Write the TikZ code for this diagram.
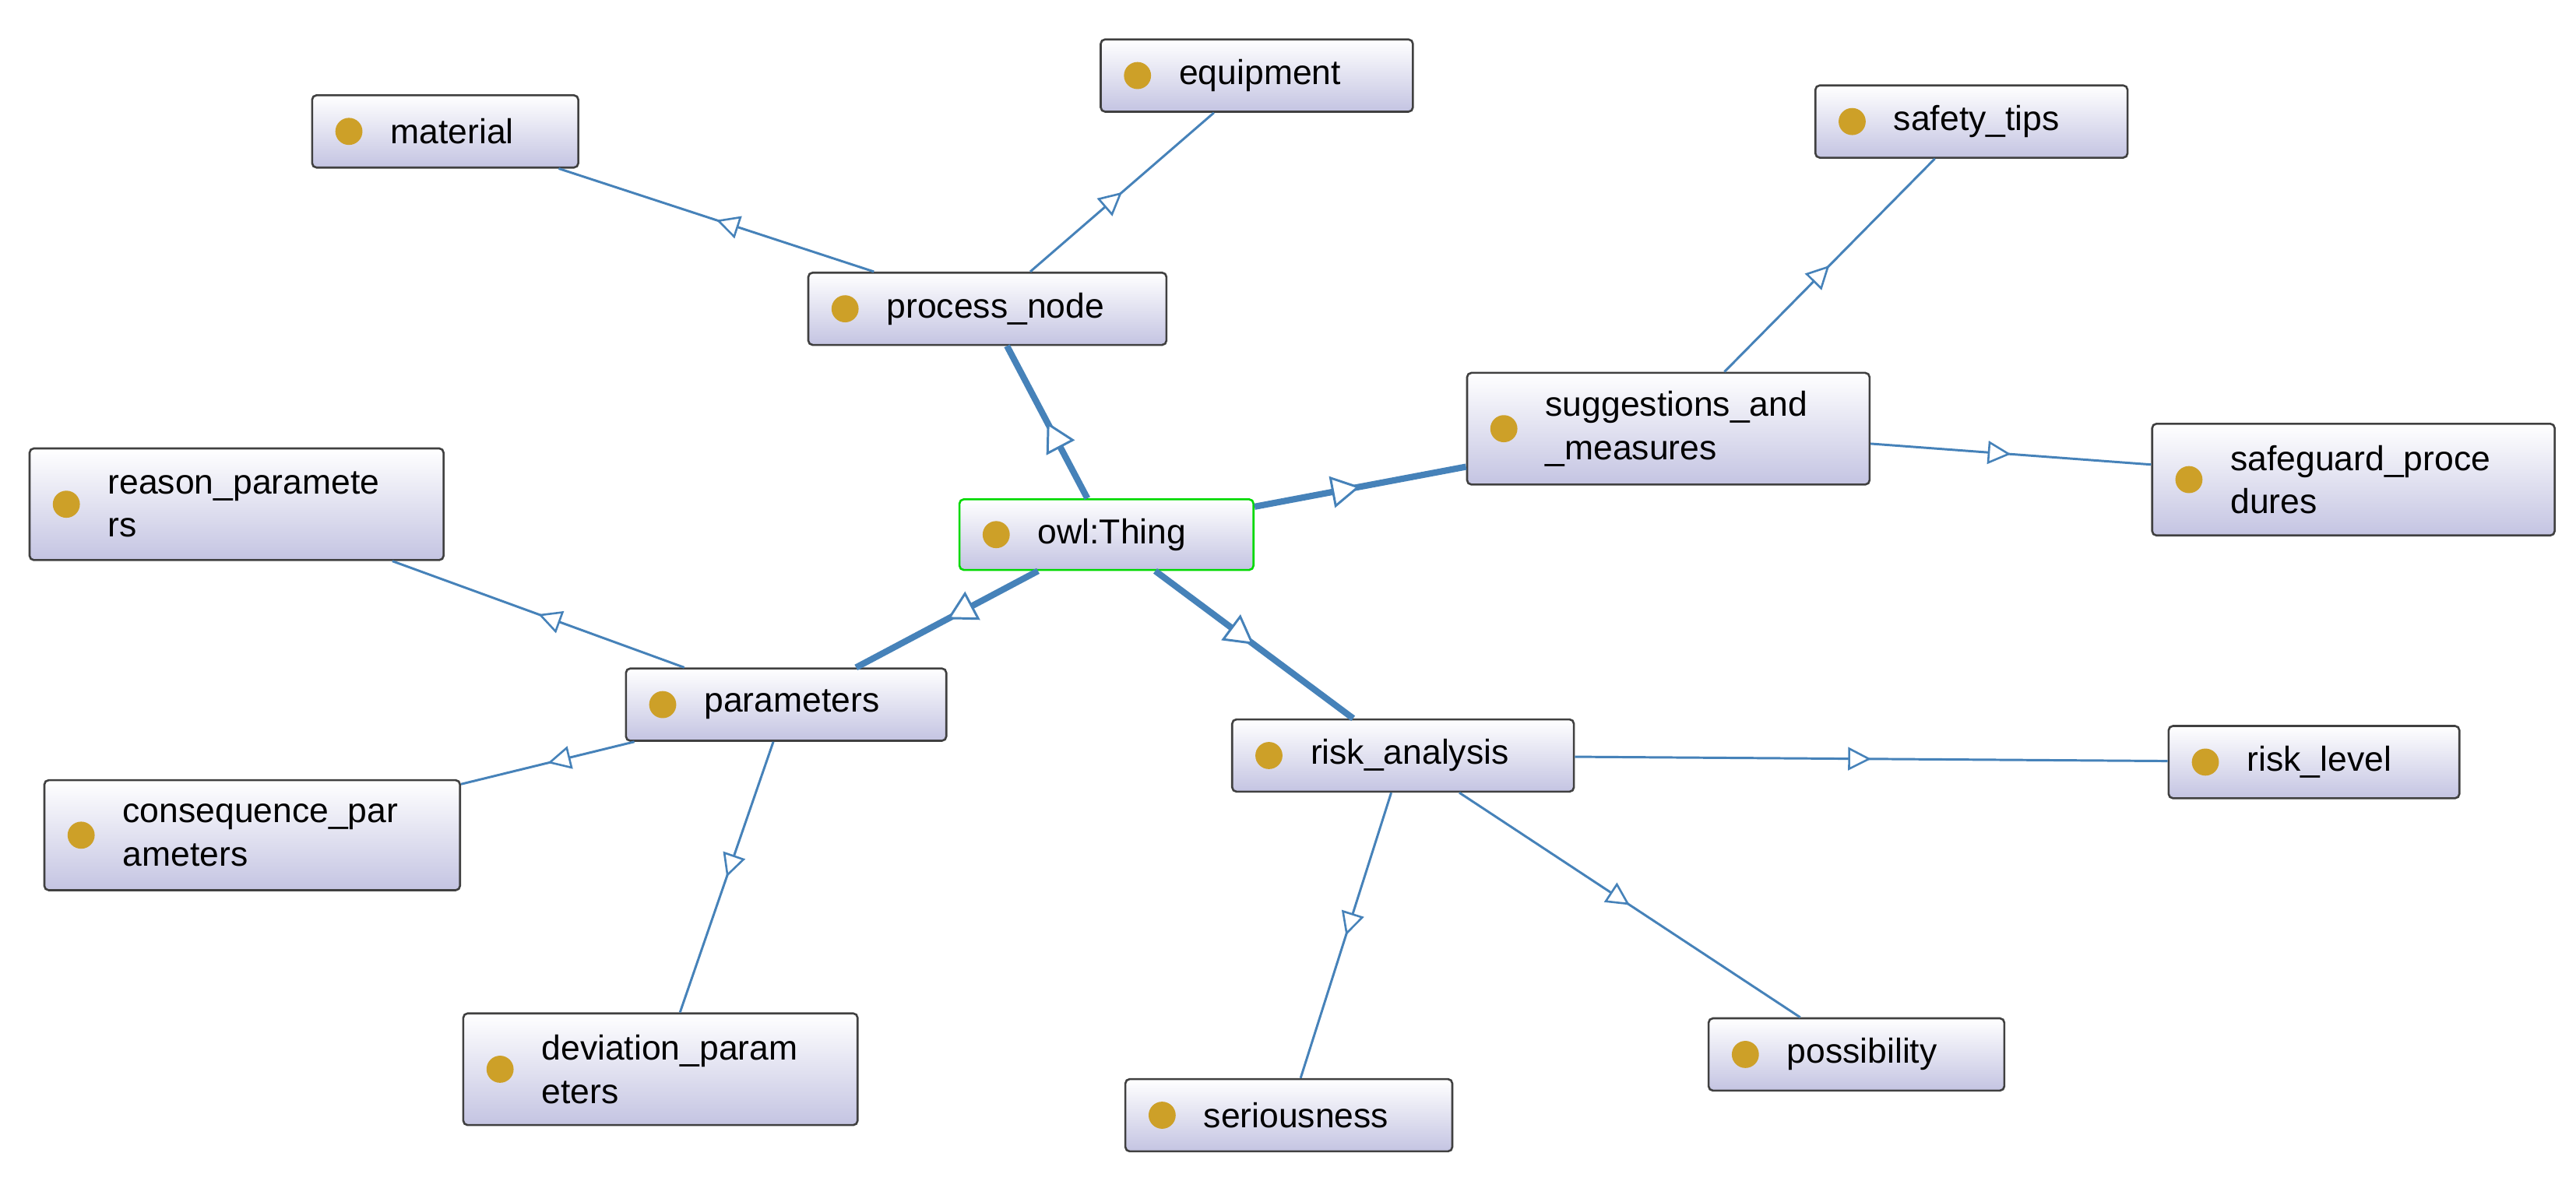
\documentclass[tikz,border=0pt]{standalone}
\usepackage{fontspec}
\setmainfont{Liberation Sans}
\usetikzlibrary{calc,arrows.meta,decorations.markings,shadows}
\definecolor{edgec}{RGB}{70,130,185}
\definecolor{dotc}{RGB}{205,160,40}
\definecolor{boxbot}{RGB}{196,196,226}
\tikzset{
 cbox/.style={draw=black!75, line width=0.7pt, rounded corners=1.5pt, top color=white, bottom color=boxbot, inner sep=0pt},
 lbl/.style={anchor=west, align=left, inner sep=0pt, font=\fontsize{12pt}{15pt}\selectfont},
 thin edge/.style={draw=edgec, line width=0.8pt, postaction={decorate}, decoration={markings, mark=at position 0.5 with {\arrow{Triangle[open, length=8pt, width=8pt, line width=0.7pt, fill=white]}}}},
 thick edge/.style={draw=edgec, line width=2.2pt, postaction={decorate}, decoration={markings, mark=at position 0.5 with {\arrow{Triangle[open, length=10pt, width=11pt, line width=0.8pt, fill=white]}}}},
}
\newcommand\cls[7][black!75]{%
 \pgfmathsetmacro\cx{(#3+#5)/2}\pgfmathsetmacro\cy{(#4+#6)/2}%
 \pgfmathsetmacro\w{(#5-#3)*0.02}\pgfmathsetmacro\h{(#6-#4)*0.02}%
 \node[cbox, draw=#1, minimum width=\w cm, minimum height=\h cm] (#2) at (\cx,\cy) {};
 \fill[dotc] ($(#2.west)+(23,0)$) circle[radius=0.165cm];
 \node[lbl] (#2-t) at ($(#2.west)+(48,0)$) {#7};
}
\begin{document}
\begin{tikzpicture}[x=0.02cm,y=-0.02cm]
\useasboundingbox[fill=white] (0,0) rectangle (1568,718.6);
\cls{material}{190}{58}{352}{102}{material}
\cls{equipment}{670}{24}{860}{68}{equipment}
\cls{process}{492}{166}{710}{210}{process\_node}
\cls{safety}{1105}{52}{1295}{96}{safety\_tips}
\cls{sugg}{893}{227}{1138}{295}{suggestions\_and\\\_measures}
\cls{safeguard}{1310}{258}{1555}{326}{safeguard\_proce\\dures}
\cls{reason}{18}{273}{270}{341}{reason\_paramete\\rs}
\cls[green!85!black]{owl}{584}{304}{763}{347}{owl:Thing}
\cls{params}{381}{407}{576}{451}{parameters}
\cls{conseq}{27}{475}{280}{542}{consequence\_par\\ameters}
\cls{risk}{750}{438}{958}{482}{risk\_analysis}
\cls{level}{1320}{442}{1497}{486}{risk\_level}
\cls{dev}{282}{617}{522}{685}{deviation\_param\\eters}
\cls{poss}{1040}{620}{1220}{664}{possibility}
\cls{ser}{685}{657}{884}{701}{seriousness}
\draw[thick edge] (owl) -- (process);
\draw[thick edge] (owl) -- (sugg);
\draw[thick edge] (owl) -- (params);
\draw[thick edge] (owl) -- (risk);
\draw[thin edge] (process) -- (material);
\draw[thin edge] (process) -- (equipment);
\draw[thin edge] (sugg) -- (safety);
\draw[thin edge] (sugg) -- (safeguard);
\draw[thin edge] (params) -- (reason);
\draw[thin edge] (params) -- (conseq);
\draw[thin edge] (params) -- (dev);
\draw[thin edge] (risk) -- (level);
\draw[thin edge] (risk) -- (poss);
\draw[thin edge] (risk) -- (ser);
\end{tikzpicture}
\end{document}
